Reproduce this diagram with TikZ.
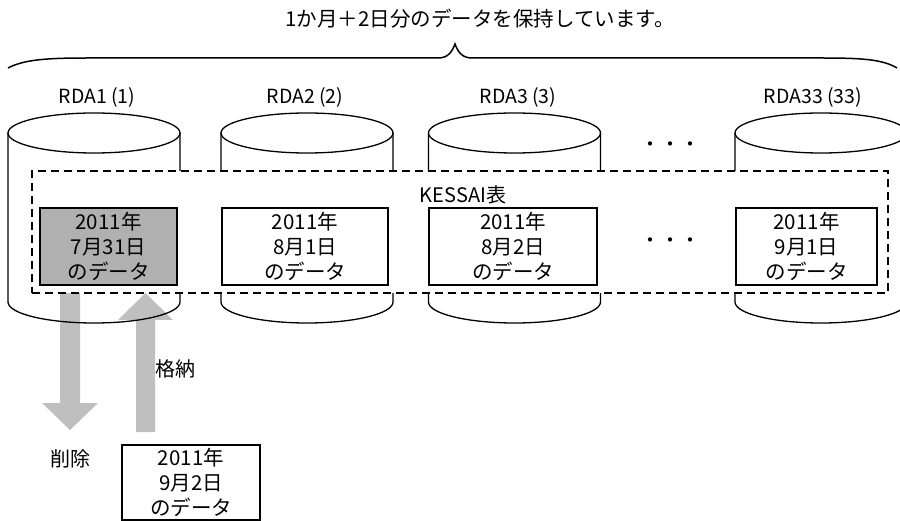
\documentclass[tikz,border=0pt]{standalone}
\usepackage{fontspec}
\setmainfont{Noto Sans CJK JP}
\begin{document}
\begin{tikzpicture}[x=1pt,y=-1pt,line width=1.3pt,
  lbl/.style={inner sep=0pt,font=\fontsize{19.5}{22}\selectfont},
  txt/.style={inner sep=0pt,font=\fontsize{20}{24}\selectfont},
  databox/.style={draw,line width=1.4pt,inner sep=0pt,align=center,minimum height=77pt,font=\fontsize{20.5}{25}\selectfont},
  oldbox/.style={databox,fill=black!31},
  tblbox/.style={draw,line width=1.4pt,dash pattern=on 8pt off 5pt,fill=white,inner sep=0pt,minimum width=856pt,minimum height=122pt},
  flow/.style={fill=black!25,draw=none},
  brace/.style={line width=1.5pt}]
\useasboundingbox (0,0) rectangle (900,521);

% title and brace
\node[txt,font=\fontsize{20.5}{24}\selectfont] (title) at (480,19) {1か月＋2日分のデータを保持しています。};
\draw[brace] (8,68) .. controls (25,59) and (50,58) .. (90,58) -- (438,58)
  .. controls (448,58) and (452,52) .. (455,44)
  .. controls (458,52) and (462,58) .. (472,58) -- (820,58)
  .. controls (860,58) and (882,59) .. (897,68);

% RDA labels
\node[lbl] (l1) at (97,97) {RDA1 (1)};
\node[lbl] (l2) at (305,97) {RDA2 (2)};
\node[lbl] (l3) at (518,97) {RDA3 (3)};
\node[lbl] (l4) at (813,97) {RDA33 (33)};

% arrows (drawn behind the cylinder outlines)
\fill[flow] (60,293) -- (80,293) -- (80,403) -- (98,403) -- (70,430) -- (42,403) -- (60,403) -- cycle;
\fill[flow] (136,432) -- (155,432) -- (155,320) -- (173,320) -- (145.5,293) -- (118,320) -- (136,320) -- cycle;

% cylinders
\foreach \cx in {94,307,514.5,821}{
  \draw (\cx,133) ellipse [x radius=86,y radius=20];
  \draw (\cx-86,133) -- (\cx-86,302) arc [start angle=180,end angle=0,x radius=86,y radius=21] -- (\cx+86,133);
}

% KESSAI table
\node[tblbox] (tbl) at (460,232) {};
\node[txt] (tname) at (463,195) {KESSAI表};

% data boxes
\node[oldbox,minimum width=137pt] (b1) at (108.5,246.5) {2011年\\7月31日\\のデータ};
\node[databox,minimum width=166pt] (b2) at (305,246.5) {2011年\\8月1日\\のデータ};
\node[databox,minimum width=168pt] (b3) at (513,246.5) {2011年\\8月2日\\のデータ};
\node[databox,minimum width=141pt] (b4) at (806.5,246.5) {2011年\\9月1日\\のデータ};

% ellipsis dots
\node[txt] (d1) at (670,147) {・・・};
\node[txt] (d2) at (670,243) {・・・};

% labels for arrows
\node[txt,anchor=west] (store) at (155,369) {格納};
\node[txt] (del) at (70,459) {削除};

% new data box
\node[databox,minimum width=138pt,minimum height=75pt] (bn) at (191,482.5) {2011年\\9月2日\\のデータ};
\end{tikzpicture}
\end{document}
